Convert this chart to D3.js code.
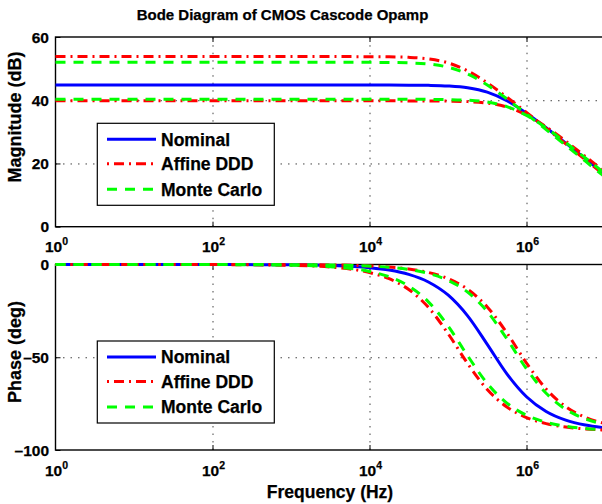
<!DOCTYPE html>
<html>
<head>
<meta charset="utf-8">
<style>
body { margin: 0; background: #fff; }
svg { display: block; background: #fff; }
text { font-family: "Liberation Sans", Arial, sans-serif; font-weight: bold; fill: #000; stroke: #000; stroke-width: 0.25; }
.grid line { stroke: #444; stroke-width: 1; stroke-dasharray: 1.5,6; }
.grid path { display: none; }
.tk path { display: none; }
.tk line { stroke: #000; stroke-width: 1; }
</style>
</head>
<body>
<svg id="chart"></svg>
<script src="https://cdnjs.cloudflare.com/ajax/libs/d3/7.8.5/d3.min.js"></script>
<script>
// frequency points (Hz) the curves were read at
var freqs = [1, 100, 1e3, 3162, 1e4, 17783, 31623, 56234, 1e5, 177828, 316228, 562341, 1e6, 1778279, 3162278, 5623413, 1e7];

// magnitude (dB)
var magNominal = [44.8, 44.8, 44.8, 44.8, 44.8, 44.79, 44.77, 44.71, 44.52, 43.96, 42.56, 39.83, 35.9, 31.3, 26.44, 21.48, 16.49];
var magAffineHi = [53.8, 53.8, 53.8, 53.8, 53.78, 53.72, 53.56, 53.07, 51.83, 49.3, 45.5, 40.97, 36.12, 31.18, 26.19, 21.2, 16.2];
var magAffineLo = [39.8, 39.8, 39.8, 39.8, 39.8, 39.8, 39.79, 39.78, 39.72, 39.56, 39.09, 37.86, 35.36, 31.59, 27.06, 22.22, 17.27];
var magMcHi = [52.0, 52.0, 52.0, 52.0, 51.98, 51.94, 51.82, 51.45, 50.46, 48.3, 44.8, 40.41, 35.62, 30.69, 25.71, 20.72, 15.72];
var magMcLo = [40.3, 40.3, 40.3, 40.3, 40.3, 40.3, 40.29, 40.27, 40.2, 40.0, 39.42, 37.98, 35.2, 31.23, 26.61, 21.74, 16.78];

// phase (deg)
var phNominal = [0, -0.02, -0.17, -0.53, -1.69, -3.0, -5.33, -9.42, -16.43, -27.69, -43.02, -58.93, -71.28, -79.21, -83.88, -86.55, -88.06];
var phAffineLo = [0, -0.04, -0.43, -1.37, -4.34, -7.68, -13.49, -23.1, -37.2, -53.4, -67.4, -76.8, -82.5, -85.76, -87.61, -88.66, -89.24];
var phAffineHi = [0, -0.01, -0.08, -0.24, -0.76, -1.36, -2.42, -4.29, -7.6, -13.34, -22.87, -36.87, -53.14, -67.13, -76.66, -82.4, -85.71];
var phMcLo = [0, -0.04, -0.37, -1.18, -3.73, -6.61, -11.65, -20.12, -33.09, -49.2, -64.12, -74.73, -81.27, -85.07, -87.22, -88.44, -89.12];
var phMcHi = [0, -0.01, -0.09, -0.27, -0.86, -1.52, -2.71, -4.81, -8.51, -14.9, -25.32, -40.08, -56.24, -69.41, -78.07, -83.22, -86.18];

var xTickExp = [0, 2, 4, 6];
var magTicks = [0, 20, 40, 60];
var phTicks = [-100, -50, 0];
var legendNames = ["Nominal", "Affine DDD", "Monte Carlo"];

var W = 602, H = 504;
var svg = d3.select("#chart").attr("width", W).attr("height", H);

var x = d3.scaleLog().domain([1, 1e7]).range([55.5, 605]);
var yMag = d3.scaleLinear().domain([0, 60]).range([226.7, 37]);
var yPh = d3.scaleLinear().domain([-100, 0]).range([450, 264.5]);

var styles = [
  {color: "#0000ff", dash: null},
  {color: "#ff0000", dash: "10,5,2,5"},
  {color: "#00ff00", dash: "10,8"}
];

function sup(g, py) {
  xTickExp.forEach(function(e) {
    var t = g.append("text")
      .attr("x", x(Math.pow(10, e)) + 1)
      .attr("y", py)
      .attr("text-anchor", "middle")
      .style("font-size", "15.5px");
    t.append("tspan").text("10");
    t.append("tspan").attr("dy", -7.5).style("font-size", "10.5px").text(e);
  });
}

function panel(y, yTicks, fmt, labelY, tickLabelY, series, legTop, ylab) {
  var g = svg.append("g");
  var top = y.range()[1], bot = y.range()[0];
  var left = x.range()[0], right = x.range()[1];

  // dotted grid
  g.append("g").attr("class", "grid")
    .attr("transform", "translate(0," + bot + ")")
    .call(d3.axisBottom(x).tickValues([100, 1e4, 1e6]).tickSize(-(bot - top)).tickFormat(""));
  g.append("g").attr("class", "grid")
    .attr("transform", "translate(" + left + ",0)")
    .call(d3.axisLeft(y).tickValues(yTicks.slice(1, -1)).tickSize(-(right - left)).tickFormat(""));

  // inward ticks, bottom and top
  g.append("g").attr("class", "tk")
    .attr("transform", "translate(0," + bot + ")")
    .call(d3.axisBottom(x).tickValues([100, 1e4, 1e6]).tickSize(-5).tickFormat(""));
  g.append("g").attr("class", "tk")
    .attr("transform", "translate(0," + top + ")")
    .call(d3.axisTop(x).tickValues([100, 1e4, 1e6]).tickSize(-5).tickFormat(""));
  g.append("g").attr("class", "tk")
    .attr("transform", "translate(" + left + ",0)")
    .call(d3.axisLeft(y).tickValues(yTicks).tickSize(-5).tickFormat(""));

  // frame
  g.append("rect")
    .attr("x", left).attr("y", top)
    .attr("width", right - left).attr("height", bot - top)
    .attr("fill", "none").attr("stroke", "#000").attr("stroke-width", 1.4);

  // y tick labels
  yTicks.forEach(function(v) {
    g.append("text")
      .attr("x", 49)
      .attr("y", y(v))
      .attr("dy", "0.36em")
      .attr("text-anchor", "end")
      .style("font-size", "15.5px")
      .text(fmt(v));
  });

  sup(g, tickLabelY);

  // curves
  var line = d3.line()
    .x(function(d) { return x(d[0]); })
    .y(function(d) { return y(d[1]); })
    .curve(d3.curveMonotoneX);
  series.forEach(function(s) {
    var st = styles[s.k];
    g.append("path")
      .datum(freqs.map(function(f, i) { return [f, s.v[i]]; }))
      .attr("d", line)
      .attr("fill", "none")
      .attr("stroke", st.color)
      .attr("stroke-width", 3)
      .attr("stroke-dasharray", st.dash);
  });

  // legend
  var lg = g.append("g");
  lg.append("rect")
    .attr("x", 97.3).attr("y", legTop)
    .attr("width", 177).attr("height", 82)
    .attr("fill", "#fff").attr("stroke", "#000").attr("stroke-width", 1.2);
  var rows = [16, 40.5, 66];
  legendNames.forEach(function(n, i) {
    var st = styles[i];
    lg.append("line")
      .attr("x1", 107).attr("x2", 156)
      .attr("y1", legTop + rows[i]).attr("y2", legTop + rows[i])
      .attr("stroke", st.color).attr("stroke-width", 3)
      .attr("stroke-dasharray", st.dash)
      .attr("stroke-dashoffset", i == 1 ? 15 : 0);
    lg.append("text")
      .attr("x", 161).attr("y", legTop + rows[i])
      .attr("dy", "0.36em")
      .style("font-size", "17.5px")
      .text(n);
  });

  svg.append("text")
    .attr("transform", "translate(21," + labelY + ") rotate(-90)")
    .attr("text-anchor", "middle")
    .style("font-size", "18px")
    .text(ylab);
}

var minus = function(v) { return v < 0 ? "\u2013" + (-v) : String(v); };

panel(yMag, magTicks, minus, 117, 252, [
  {k: 0, v: magNominal},
  {k: 1, v: magAffineHi}, {k: 1, v: magAffineLo},
  {k: 2, v: magMcHi}, {k: 2, v: magMcLo}
], 123.3, "Magnitude (dB)");

panel(yPh, phTicks, minus, 352, 476, [
  {k: 0, v: phNominal},
  {k: 1, v: phAffineHi}, {k: 1, v: phAffineLo},
  {k: 2, v: phMcHi}, {k: 2, v: phMcLo}
], 341, "Phase (deg)");

svg.append("text")
  .attr("x", 282.5).attr("y", 20)
  .attr("text-anchor", "middle")
  .style("font-size", "15px")
  .text("Bode Diagram of CMOS Cascode Opamp");

svg.append("text")
  .attr("x", 330).attr("y", 498)
  .attr("text-anchor", "middle")
  .style("font-size", "17.5px")
  .text("Frequency (Hz)");
</script>
</body>
</html>
